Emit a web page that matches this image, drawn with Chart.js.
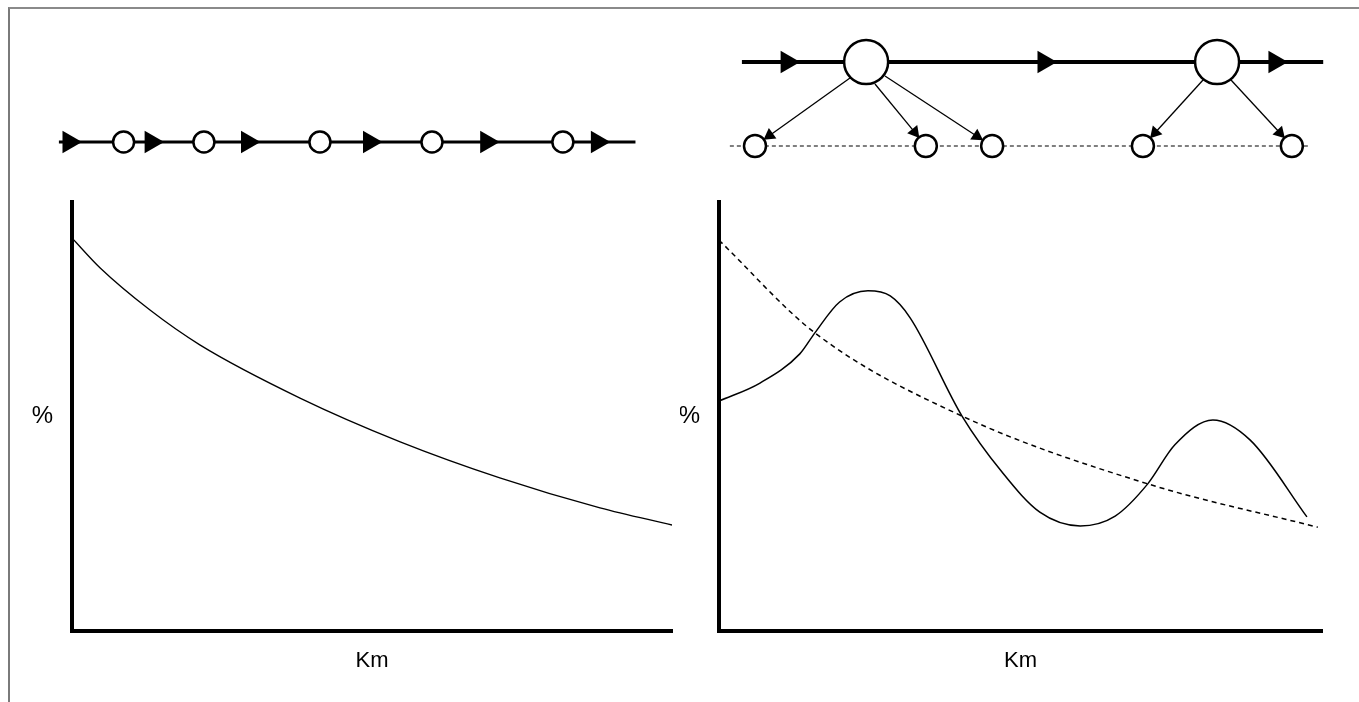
<!DOCTYPE html>
<html>
<head>
<meta charset="utf-8">
<script src="https://cdn.jsdelivr.net/npm/chart.js@4.4.1/dist/chart.umd.min.js"></script>
<style>
    body { margin: 0; background: #fff; width: 1359px; height: 702px; overflow: hidden; position: relative; }
    .frame { position: absolute; left: 8px; top: 7px; width: 1400px; height: 720px; border-left: 2px solid #7a7a7a; border-top: 2px solid #8a8a8a; }
    canvas { position: absolute; }
</style>
</head>
<body>
<div class="frame"></div>
<canvas id="diagLeft" width="680" height="180" style="left:0;top:0"></canvas>
<canvas id="diagRight" width="679" height="180" style="left:680px;top:0"></canvas>
<canvas id="chartLeft" width="680" height="522" style="left:0;top:180px"></canvas>
<canvas id="chartRight" width="679" height="522" style="left:680px;top:180px"></canvas>
<script>
// ---- data (x in Km, 0..100 along the axis; y in %, 0..100) ----
const leftCurveX = [0, 4.7, 13, 21.3, 38, 54.7, 71.3, 88, 100];
const leftCurveY = [91.6, 84.6, 74.8, 66.7, 54.3, 44.1, 35.7, 28.7, 24.7];

const rightSolidX = [0, 6.8, 13.4, 15.9, 20, 24.7, 28.4, 31.7, 40.3, 46.9, 53.2, 59.9, 65.7, 71.1, 75.6, 81.9, 88.1, 97.5];
const rightSolidY = [53.6, 57.8, 64.6, 69.5, 76.7, 79.3, 78.1, 73, 50.1, 37.1, 27.7, 24.5, 26.8, 34.3, 43.4, 49.2, 44.5, 26.6];

const rightDashedX = [0, 15.9, 40.3, 71.1, 99.3];
const rightDashedY = [91.1, 69.5, 50.1, 34.3, 24.2];

// diagrams above the charts (positions along the same Km axis)
const leftLineX = [-2.2, 94.7];
const leftArrowsX = [-0.5, 13.3, 29.5, 50, 69.7, 88.3];
const leftStopsX = [8.67, 22.17, 41.67, 60.5, 82.5];

const rightLineX = [3.8, 100.2];
const rightArrowsX = [11.3, 53.9, 92.2];
const rightHubsX = [24.4, 82.6];
const rightStopsX = [5.97, 34.3, 45.3, 70.3, 95.0];
const rightDashX = [1.8, 97.7];
// branch arrows: [fromX, fromLevel, toX, toLevel] (level 1 = main line, 0 = dashed line)
const branches = [
    [21.72, 0.81, 8.39, 0.125],
    [25.87, 0.738, 32.44, 0.165],
    [27.53, 0.833, 42.77, 0.117],
    [80.27, 0.786, 72.32, 0.158],
    [84.91, 0.786, 93.0, 0.157]
];

const FONT = '"Liberation Sans", Arial, sans-serif';
const toPoints = (xs, ys) => xs.map((x, i) => ({ x: x, y: ys[i] }));
const flat = (xs, level) => xs.map(x => ({ x: x, y: level }));

function baseOptions() {
    return {
        responsive: false,
        animation: false,
        events: [],
        plugins: { legend: { display: false }, tooltip: { enabled: false } }
    };
}

function diagramOptions(padding) {
    const opts = baseOptions();
    opts.layout = { padding: padding };
    opts.scales = {
        x: { type: 'linear', min: 0, max: 100, display: false },
        y: { type: 'linear', min: 0, max: 1, display: false }
    };
    return opts;
}

function chartOptions(yWidth, rightPad) {
    const opts = baseOptions();
    opts.layout = { padding: { top: 22, right: rightPad, left: 0, bottom: 0 } };
    opts.scales = {
        x: {
            type: 'linear', min: 0, max: 100,
            grid: { display: false, drawTicks: false },
            border: { display: true, color: '#000', width: 4 },
            ticks: { display: false },
            title: { display: true, text: 'Km', color: '#000', font: { family: FONT, size: 22 }, padding: { top: 0, bottom: 28 } },
            afterFit: s => { s.height = 71; s.paddingLeft = 0; s.paddingRight = 0; }
        },
        y: {
            type: 'linear', min: 0, max: 100,
            grid: { display: false, drawTicks: false },
            border: { display: true, color: '#000', width: 4 },
            // the "%" label sits level with the middle of the axis, unrotated
            ticks: { stepSize: 50, padding: 19, color: '#000', font: { family: FONT, size: 24 }, callback: v => v === 50 ? '%' : '' },
            afterFit: s => { s.width = yWidth; s.paddingTop = 0; s.paddingBottom = 0; }
        }
    };
    return opts;
}

// rotation of an arrowhead so it points along its branch
function headRotation(ctx) {
    const pts = ctx.dataset.data;
    const sx = ctx.chart.scales.x, sy = ctx.chart.scales.y;
    const dx = sx.getPixelForValue(pts[1].x) - sx.getPixelForValue(pts[0].x);
    const dy = sy.getPixelForValue(pts[1].y) - sy.getPixelForValue(pts[0].y);
    return Math.atan2(dx, -dy) * 180 / Math.PI;
}

// ---- left diagram ----
new Chart(document.getElementById('diagLeft'), {
    type: 'scatter',
    data: {
        datasets: [
            { data: flat(leftStopsX, 0.5), pointStyle: 'circle', pointRadius: 10.5, pointBackgroundColor: '#fff', pointBorderColor: '#000', pointBorderWidth: 2.5, clip: false, order: 1 },
            { data: flat(leftArrowsX, 0.5), pointStyle: 'triangle', pointRotation: 90, pointRadius: 13, pointBackgroundColor: '#000', pointBorderColor: '#000', pointBorderWidth: 0, clip: false, order: 2 },
            { data: flat(leftLineX, 0.5), showLine: true, borderColor: '#000', borderWidth: 3, pointRadius: 0, clip: false, order: 3 }
        ]
    },
    options: diagramOptions({ left: 72, right: 8, top: 122, bottom: 18 })
});

// ---- right diagram ----
const rightDiagSets = [
    { data: flat(rightHubsX, 1), pointStyle: 'circle', pointRadius: 22, pointBackgroundColor: '#fff', pointBorderColor: '#000', pointBorderWidth: 2.5, clip: false, order: 1 },
    { data: flat(rightStopsX, 0), pointStyle: 'circle', pointRadius: 11, pointBackgroundColor: '#fff', pointBorderColor: '#000', pointBorderWidth: 2.5, clip: false, order: 1 },
    { data: flat(rightArrowsX, 1), pointStyle: 'triangle', pointRotation: 90, pointRadius: 13, pointBackgroundColor: '#000', pointBorderColor: '#000', pointBorderWidth: 0, clip: false, order: 2 },
    { data: flat(rightLineX, 1), showLine: true, borderColor: '#000', borderWidth: 4, pointRadius: 0, clip: false, order: 3 },
    { data: flat(rightDashX, 0), showLine: true, borderColor: '#000', borderWidth: 1.2, borderDash: [4, 3], pointRadius: 0, clip: false, order: 3 }
];
branches.forEach(b => {
    rightDiagSets.push({
        data: [{ x: b[0], y: b[1] }, { x: b[2], y: b[3] }],
        showLine: true, borderColor: '#000', borderWidth: 1.3,
        pointStyle: 'triangle', pointRadius: [0, 7.5], pointRotation: headRotation,
        pointBackgroundColor: '#000', pointBorderWidth: 0, clip: false, order: 2
    });
});
new Chart(document.getElementById('diagRight'), {
    type: 'scatter',
    data: { datasets: rightDiagSets },
    options: diagramOptions({ left: 39, right: 37, top: 62, bottom: 34 })
});

// ---- left chart ----
new Chart(document.getElementById('chartLeft'), {
    type: 'scatter',
    data: {
        datasets: [
            { data: toPoints(leftCurveX, leftCurveY), showLine: true, borderColor: '#000', borderWidth: 1.3, pointRadius: 0, cubicInterpolationMode: 'monotone' }
        ]
    },
    options: chartOptions(72, 8)
});

// ---- right chart ----
new Chart(document.getElementById('chartRight'), {
    type: 'scatter',
    data: {
        datasets: [
            { data: toPoints(rightSolidX, rightSolidY), showLine: true, borderColor: '#000', borderWidth: 1.5, pointRadius: 0, cubicInterpolationMode: 'monotone' },
            { data: toPoints(rightDashedX, rightDashedY), showLine: true, borderColor: '#000', borderWidth: 1.5, borderDash: [5, 4], pointRadius: 0, cubicInterpolationMode: 'monotone' }
        ]
    },
    options: chartOptions(39, 37)
});
</script>
</body>
</html>
